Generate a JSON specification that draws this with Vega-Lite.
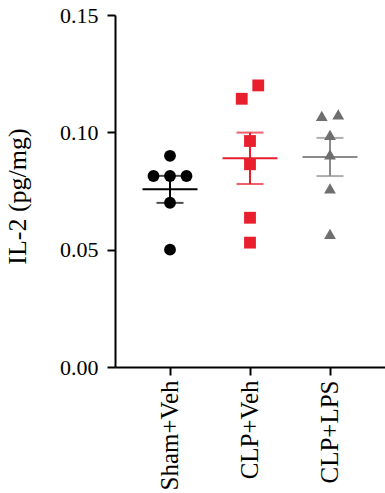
{
  "$schema": "https://vega.github.io/schema/vega-lite/v6.json",
  "width": 270,
  "height": 352,
  "autosize": "none",
  "padding": {"left": 115, "top": 15, "right": 0, "bottom": 126},
  "background": "white",
  "config": {
    "view": {"stroke": null},
    "font": "Liberation Serif",
    "axis": {
      "domainColor": "#000000",
      "domainWidth": 2,
      "tickColor": "#000000",
      "tickWidth": 2,
      "tickSize": 8,
      "grid": false,
      "labelColor": "#000000",
      "labelFont": "Liberation Serif",
      "titleFont": "Liberation Serif",
      "titleColor": "#000000",
      "titleFontWeight": "normal"
    },
    "axisY": {
      "labelFontSize": 22,
      "labelPadding": 9,
      "titleFontSize": 26,
      "titleX": -90,
      "titleY": 181,
      "titleAngle": 270,
      "titleAlign": "center",
      "titleBaseline": "alphabetic"
    },
    "axisX": {
      "labelFontSize": 25,
      "labelPadding": 5,
      "labelAngle": -90
    }
  },
  "data": {
    "values": [
      {"group": "Sham+Veh", "value": 0.0900, "slot": 0},
      {"group": "Sham+Veh", "value": 0.0814, "slot": -2},
      {"group": "Sham+Veh", "value": 0.0814, "slot": 0},
      {"group": "Sham+Veh", "value": 0.0814, "slot": 2},
      {"group": "Sham+Veh", "value": 0.0700, "slot": 0},
      {"group": "Sham+Veh", "value": 0.0500, "slot": 0},
      {"group": "CLP+Veh", "value": 0.1200, "slot": 1},
      {"group": "CLP+Veh", "value": 0.1143, "slot": -1},
      {"group": "CLP+Veh", "value": 0.0963, "slot": 0},
      {"group": "CLP+Veh", "value": 0.0864, "slot": 0},
      {"group": "CLP+Veh", "value": 0.0636, "slot": 0},
      {"group": "CLP+Veh", "value": 0.0530, "slot": 0},
      {"group": "CLP+LPS", "value": 0.1070, "slot": -1},
      {"group": "CLP+LPS", "value": 0.1077, "slot": 1},
      {"group": "CLP+LPS", "value": 0.0989, "slot": 0},
      {"group": "CLP+LPS", "value": 0.0906, "slot": 0},
      {"group": "CLP+LPS", "value": 0.0761, "slot": 0},
      {"group": "CLP+LPS", "value": 0.0567, "slot": 0}
    ]
  },
  "encoding": {
    "x": {
      "field": "group",
      "type": "nominal",
      "sort": ["Sham+Veh", "CLP+Veh", "CLP+LPS"],
      "scale": {"type": "band", "paddingInner": 0, "paddingOuter": 0.1875},
      "axis": {"title": null}
    }
  },
  "layer": [
    {
      "mark": {"type": "errorbar", "extent": "stderr", "ticks": {"size": 27, "thickness": 2}, "rule": {"strokeWidth": 2}},
      "encoding": {
        "y": {"field": "value", "type": "quantitative", "title": "IL-2 (pg/mg)"},
        "color": {
          "field": "group",
          "type": "nominal",
          "scale": {"domain": ["Sham+Veh", "CLP+Veh", "CLP+LPS"], "range": ["#000000", "#e8202e", "#8b8b8b"]},
          "legend": null
        }
      }
    },
    {
      "mark": {"type": "tick", "size": 55, "thickness": 2},
      "encoding": {
        "y": {"aggregate": "mean", "field": "value", "type": "quantitative", "title": "IL-2 (pg/mg)"},
        "color": {
          "field": "group",
          "type": "nominal",
          "scale": {"domain": ["Sham+Veh", "CLP+Veh", "CLP+LPS"], "range": ["#000000", "#e8202e", "#8b8b8b"]},
          "legend": null
        }
      }
    },
    {
      "mark": {"type": "point", "filled": true, "opacity": 1, "size": 140},
      "encoding": {
        "xOffset": {"field": "slot", "type": "quantitative", "scale": {"domain": [-2, 2], "range": [23.5, 56.5]}},
        "y": {
          "field": "value",
          "type": "quantitative",
          "title": "IL-2 (pg/mg)",
          "scale": {"domain": [0, 0.15], "nice": false, "zero": true},
          "axis": {"values": [0, 0.05, 0.1, 0.15], "format": ".2f"}
        },
        "color": {
          "field": "group",
          "type": "nominal",
          "scale": {"domain": ["Sham+Veh", "CLP+Veh", "CLP+LPS"], "range": ["#000000", "#e8202e", "#6f6f6f"]},
          "legend": null
        },
        "shape": {
          "field": "group",
          "type": "nominal",
          "scale": {"domain": ["Sham+Veh", "CLP+Veh", "CLP+LPS"], "range": ["circle", "square", "triangle-up"]},
          "legend": null
        }
      }
    }
  ],
  "resolve": {"scale": {"color": "independent"}}
}
